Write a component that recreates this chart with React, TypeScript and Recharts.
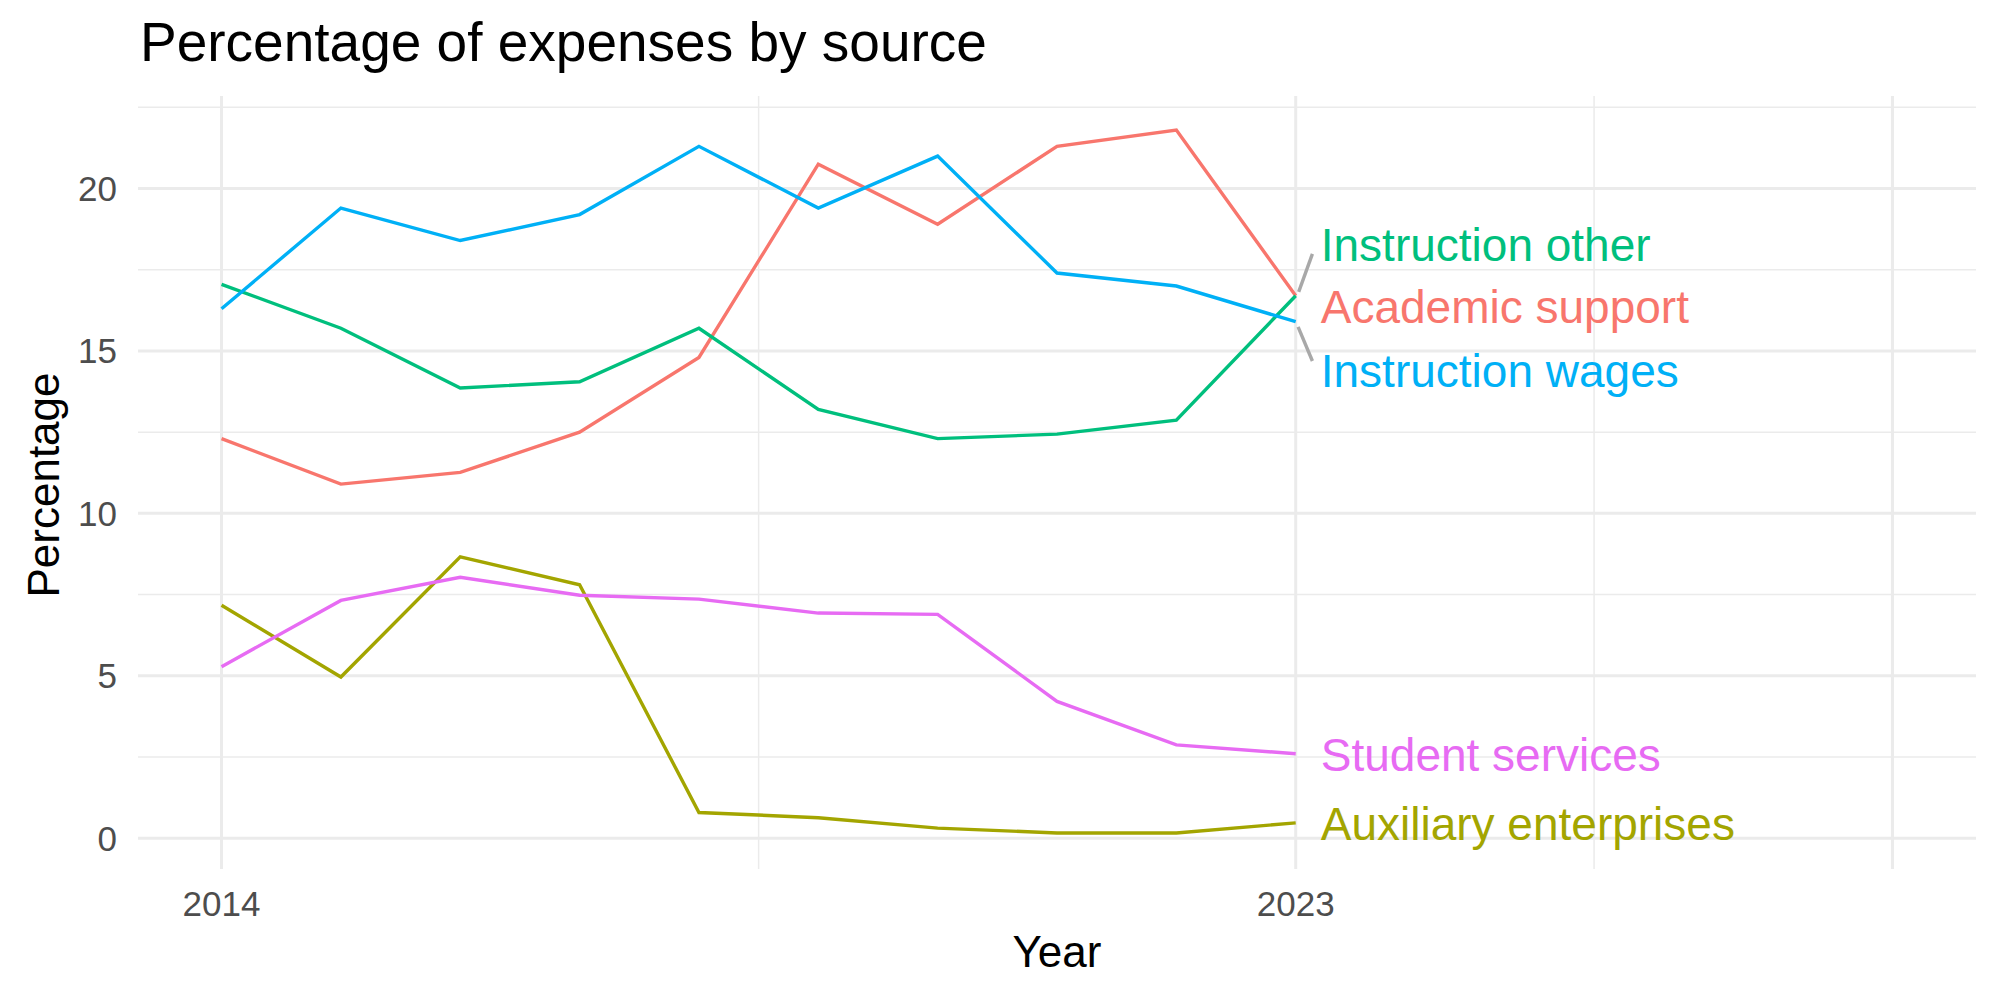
import React from 'react';
import {
  LineChart,
  Line,
  XAxis,
  YAxis,
  CartesianGrid,
  ReferenceLine,
  ReferenceDot,
} from 'recharts';

const years = [2014, 2015, 2016, 2017, 2018, 2019, 2020, 2021, 2022, 2023];

const academicSupport = [12.3, 10.9, 11.26, 12.5, 14.8, 20.75, 18.9, 21.3, 21.8, 16.7];
const auxiliaryEnterprises = [7.17, 4.96, 8.66, 7.8, 0.79, 0.63, 0.31, 0.16, 0.16, 0.47];
const instructionOther = [17.05, 15.7, 13.86, 14.05, 15.7, 13.2, 12.3, 12.44, 12.87, 16.7];
const instructionWages = [16.3, 19.4, 18.4, 19.2, 21.3, 19.4, 21.0, 17.4, 17.0, 15.9];
const studentServices = [5.28, 7.32, 8.03, 7.48, 7.36, 6.93, 6.89, 4.21, 2.87, 2.6];

const xTicks = [2014, 2023];
const yTicks = [0, 5, 10, 15, 20];
const xMajorGrid = [2014, 2023, 2028];
const xMinorGrid = [2018.5, 2025.5];
const yMajorGrid = [0, 5, 10, 15, 20];
const yMinorGrid = [2.5, 7.5, 12.5, 17.5, 22.5];

const series = [
  { key: 'academic', name: 'Academic support', color: '#F8766D', values: academicSupport, labelY: 16.36 },
  { key: 'auxiliary', name: 'Auxiliary enterprises', color: '#A3A500', values: auxiliaryEnterprises, labelY: 0.43 },
  { key: 'other', name: 'Instruction other', color: '#00BF7D', values: instructionOther, labelY: 18.27 },
  { key: 'wages', name: 'Instruction wages', color: '#00B0F6', values: instructionWages, labelY: 14.39 },
  { key: 'student', name: 'Student services', color: '#E76BF3', values: studentServices, labelY: 2.56 },
];

// repel connector segments for the two labels pushed off their line ends
const connectors = [
  [{ x: 2023.025, y: 16.82 }, { x: 2023.14, y: 17.99 }],
  [{ x: 2023.02, y: 15.74 }, { x: 2023.14, y: 14.69 }],
];

const labelX = 2023.21;

const data = years.map((year, i) => {
  const row: Record<string, number> = { year };
  series.forEach((s) => {
    row[s.key] = s.values[i];
  });
  return row;
});

const FONT = '"Liberation Sans", Arial, Helvetica, sans-serif';

export default function App() {
  return (
    <div style={{ position: 'absolute', left: 0, top: 0, width: 2000, height: 1000, background: '#fff', fontFamily: FONT }}>
      <LineChart
        width={2000}
        height={1000}
        data={data}
        margin={{ top: 96, right: 24, left: 78, bottom: 71 }}
      >
        <CartesianGrid
          stroke="#EBEBEB"
          strokeWidth={1.5}
          horizontalValues={yMinorGrid}
          verticalValues={xMinorGrid}
        />
        <CartesianGrid
          stroke="#EBEBEB"
          strokeWidth={3}
          horizontalValues={yMajorGrid}
          verticalValues={xMajorGrid}
        />
        <XAxis
          dataKey="year"
          type="number"
          domain={[2013.3, 2028.7]}
          ticks={xTicks}
          height={60}
          axisLine={false}
          tickLine={false}
          tickSize={0}
          tickMargin={22}
          tick={{ fill: '#4D4D4D', fontSize: 35, fontFamily: FONT }}
          allowDataOverflow
        />
        <YAxis
          type="number"
          domain={[-0.95, 22.85]}
          ticks={yTicks}
          width={60}
          axisLine={false}
          tickLine={false}
          tickSize={0}
          tickMargin={21}
          tick={{ fill: '#4D4D4D', fontSize: 35, fontFamily: FONT }}
          allowDataOverflow
        />
        {series.map((s) => (
          <Line
            key={s.key}
            type="linear"
            dataKey={s.key}
            name={s.name}
            stroke={s.color}
            strokeWidth={3.4}
            dot={false}
            activeDot={false}
            isAnimationActive={false}
          />
        ))}
        {connectors.map((seg, i) => (
          <ReferenceLine key={i} segment={seg} stroke="#A8A8A8" strokeWidth={3.4} ifOverflow="visible" />
        ))}
        {series.map((s) => (
          <ReferenceDot
            key={`lbl-${s.key}`}
            x={labelX}
            y={s.labelY}
            r={0}
            ifOverflow="visible"
            shape={(p: any) => (
              <text
                x={p.cx}
                y={p.cy}
                dominantBaseline="central"
                textAnchor="start"
                fill={s.color}
                fontSize={46}
                fontFamily={FONT}
              >
                {s.name}
              </text>
            )}
          />
        ))}
      </LineChart>
      <svg
        width={2000}
        height={1000}
        style={{ position: 'absolute', left: 0, top: 0, pointerEvents: 'none' }}
      >
        <text x={140} y={61} fontSize={55} fontFamily={FONT} fill="#000">
          Percentage of expenses by source
        </text>
        <text x={1057} y={967} fontSize={44} fontFamily={FONT} fill="#000" textAnchor="middle">
          Year
        </text>
        <text
          x={59}
          y={485}
          fontSize={44}
          fontFamily={FONT}
          fill="#000"
          textAnchor="middle"
          transform="rotate(-90 59 485)"
        >
          Percentage
        </text>
      </svg>
    </div>
  );
}
